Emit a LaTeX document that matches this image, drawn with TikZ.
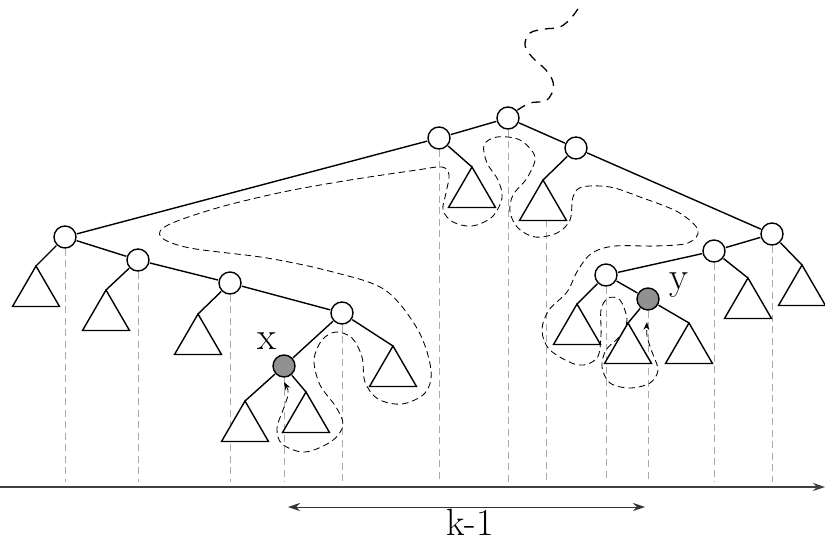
\documentclass[tikz,border=0pt]{standalone}
\usetikzlibrary{arrows.meta}
\definecolor{nodegray}{RGB}{145,145,145}
\definecolor{vgray}{RGB}{170,170,170}
\begin{document}
\begin{tikzpicture}[x=1pt,y=-1pt,
  edge/.style={line width=1.4pt},
  vshape/.style={circle,minimum size=24pt,inner sep=0pt},
  tri/.style={line width=1.4pt,fill=white,line join=miter},
  vline/.style={draw=vgray,line width=0.9pt,dash pattern=on 7pt off 4.5pt},
  tour/.style={line width=0.85pt,dash pattern=on 6.5pt off 4pt},
  wig/.style={line width=1.3pt,dash pattern=on 9pt off 7pt},
  lab/.style={font=\fontsize{39}{42}\selectfont,anchor=base,inner sep=0pt}
]
\useasboundingbox (0,0) rectangle (825,544);
\coordinate (bot) at (0,482);
% tree node shapes (drawn later)
\node[vshape] (R) at (508,118) {};
\node[vshape] (A) at (439,138) {};
\node[vshape] (B) at (576,148) {};
\node[vshape] (L1) at (65,237) {};
\node[vshape] (L2) at (138,260) {};
\node[vshape] (L3) at (230,283) {};
\node[vshape] (L4) at (342,313) {};
\node[vshape] (X) at (284,366) {};
\node[vshape] (R1) at (772,234) {};
\node[vshape] (R2) at (714,251) {};
\node[vshape] (R3) at (606,275) {};
\node[vshape] (Y) at (648,299) {};
\coordinate (tBv) at (546,220);
% vertical dashed lines
\foreach \n in {L1,L2,L3,L4,X,A,R,tBv,R3,Y,R2,R1}{
  \draw[vline] (\n.center) -- (\n |- bot);
}
% tour curve
\draw[tour,{Stealth[length=8pt,width=6pt]}-{Stealth[length=8pt,width=6pt]}] plot[smooth,tension=0.55] coordinates {
(284,382) (288,394) (283,410) (277,428) (282,444) (305,452) (332,441) (343,425) (336,407) (320,385) (314,360) (322,340) (336,332) (352,338) (362,357) (365,382) (378,399) (402,404) (425,393) (431,370) (418,330) (385,290) (333,272) (267,258) (190,248) (161,237) (168,225) (217,208) (283,192) (350,180) (417,170) (442,167) (449,175) (446,193) (443,210) (453,222) (472,226) (492,217) (502,198) (498,180) (487,163) (484,145) (497,137) (520,140) (535,157) (527,178) (513,195) (510,212) (518,228) (535,237) (557,233) (570,220) (573,197) (582,187) (610,187) (640,197) (678,212) (698,230) (688,243) (655,246) (615,246) (592,253) (578,270) (567,292) (549,310) (542,330) (550,350) (578,365) (597,358) (601,335) (601,310) (608,298) (620,300) (627,320) (620,336) (606,350) (602,367) (610,383) (630,388) (650,383) (658,370) (652,352) (647,336) (647,322)};
% triangle apexes
\foreach \n/\ax/\ay in {tA/472/167, tB/543/180, t1/36/266, t2/106/290, t3/198/314, t4/393/346, tx1/245/401, tx2/306/392, tR1/802/265, tR2/748/278, tR3/577/304, ty1/628/323, ty2/689/323}{
  \coordinate (\n) at (\ax,\ay);
}
% edges
\draw[edge] (R) -- (A); \draw[edge] (R) -- (B);
\draw[edge] (A) -- (L1); \draw[edge] (L1) -- (L2); \draw[edge] (L2) -- (L3);
\draw[edge] (L3) -- (L4); \draw[edge] (L4) -- (X);
\draw[edge] (B) -- (R1); \draw[edge] (R1) -- (R2); \draw[edge] (R2) -- (R3);
\draw[edge] (R3) -- (Y);
\draw[edge] (A) -- (tA); \draw[edge] (B) -- (tB);
\draw[edge] (L1) -- (t1); \draw[edge] (L2) -- (t2); \draw[edge] (L3) -- (t3);
\draw[edge] (L4) -- (t4); \draw[edge] (X) -- (tx1); \draw[edge] (X) -- (tx2);
\draw[edge] (R1) -- (tR1); \draw[edge] (R2) -- (tR2); \draw[edge] (R3) -- (tR3);
\draw[edge] (Y) -- (ty1); \draw[edge] (Y) -- (ty2);
% triangles
\foreach \n in {tA,tB,t1,t2,t3,t4,tx1,tx2,tR1,tR2,tR3,ty1,ty2}{
  \draw[tri] (\n) -- ++(-23.5,40.5) -- ++(47,0) -- cycle;
}
% node circles
\foreach \n in {R,A,B,L1,L2,L3,L4,R1,R2,R3}{\draw[line width=1.4pt,fill=white] (\n.center) circle (11pt);}
\foreach \n in {X,Y}{\draw[line width=1.4pt,fill=nodegray] (\n.center) circle (11pt);}
% wiggle above root
\draw[wig] plot[smooth,tension=0.6] coordinates {(R.40) (530,103) (545,101) (552,93) (553,82) (546,70) (532,57) (525,45) (530,33) (545,29) (560,27) (572,17) (581,4)};
% labels
\node[lab] (lx) at (267,349) {x};
\node[lab] (ly) at (679,289) {y};
% axis
\coordinate (ax0) at (0,487);
\coordinate (ax1) at (825,487);
\draw[line width=1.2pt,draw=black!75,-{Stealth[length=12pt,width=8pt]}] (ax0) -- (ax1);
\coordinate (k0) at (288,507);
\coordinate (k1) at (645,507);
\draw[line width=1pt,draw=black!80,{Stealth[length=12pt,width=8pt]}-{Stealth[length=12pt,width=8pt]}] (k0) -- (k1);
\node[lab,font=\fontsize{38}{40}\selectfont] (kl) at (470,535) {k-1};
\end{tikzpicture}
\end{document}
